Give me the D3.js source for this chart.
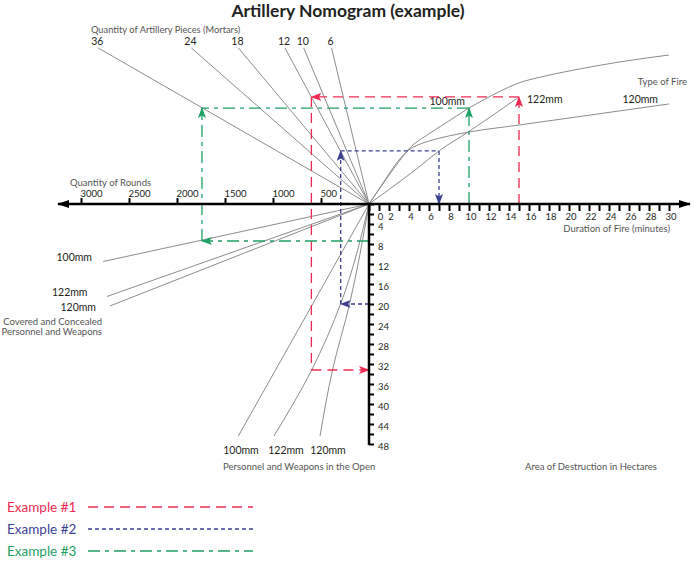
<!DOCTYPE html>
<html>
<head>
<meta charset="utf-8">
<script src="https://cdn.jsdelivr.net/npm/d3@7"></script>
<style>
  body { margin: 0; background: #fff; }
  svg { display: block; font-family: "Lato", "Open Sans", sans-serif; }
</style>
</head>
<body>
<svg id="chart" width="699" height="561"></svg>
<script>
// axis ticks
var roundsTicks = [500, 1000, 1500, 2000, 2500, 3000];
var minuteTicks = d3.range(0, 31);
var areaTicks = d3.range(0, 49, 2);

// upper left: quantity of pieces, rounds reached at the top of each line
var piecesLabels = ["36", "24", "18", "12", "10", "6"];
var piecesRoundsAtTop = [2820, 1850, 1360, 875, 680, 390];
var levelTop = 80;

// upper right: type of fire curves (minutes -> level)
var fire100Min = [0, 1, 2, 3, 4, 6, 8, 10, 12, 14, 15, 17, 20, 25, 30];
var fire100Level = [0, 7.5, 14.8, 21.8, 28.3, 36, 42.6, 49.2, 54.9, 60, 62.1, 64.9, 68.2, 72.8, 76.4];
var fire122Min = [0, 5, 7, 10, 15];
var fire122Level = [0, 19, 27.2, 37.2, 54.9];
var fire120Min = [0, 1, 2, 3, 4, 5, 6, 8, 10, 15, 20, 25, 30];
var fire120Level = [0, 7.7, 15.4, 22.6, 27.8, 30.5, 32.3, 34.9, 36.9, 40.5, 44.1, 47.7, 51.3];

// lower left: covered and concealed targets (rounds -> area)
var coveredLabels = ["100mm", "122mm", "120mm"];
var coveredRounds = [2770, 2730, 2700];
var coveredArea = [11.5, 18.5, 20.4];

// lower: personnel and weapons in the open
var openLabels = ["100mm", "122mm", "120mm"];
var open100Rounds = [0, 1361];
var open100Area = [0, 46.4];
var open122Rounds = [0, 292, 597, 990];
var open122Area = [0, 19.8, 33.2, 46.4];
var open120Rounds = [0, 200, 380, 510];
var open120Area = [0, 19.8, 33.2, 46.4];

// worked examples
var exampleNames = ["Example #1", "Example #2", "Example #3"];
var exampleColors = ["#ee2a52", "#3a3f92", "#1fa064"];
var exampleDash = ["10,6", "4,3", "12,5,4,5"];
var ex1 = { minutes: 15, level: 54.9, rounds: 600, area: 33.2 };
var ex2 = { minutes: 7, level: 27.2, rounds: 295, area: 20 };
var ex3 = { minutes: 10, level: 49.2, rounds: 1740, area: 7.4 };

var svg = d3.select("#chart");
var ox = 369, oy = 204;

// scales, all meeting at the origin
var xR = d3.scaleLinear().domain([0, 3000]).range([ox, 81]);
var xT = d3.scaleLinear().domain([0, 30]).range([ox, 669]);
var yA = d3.scaleLinear().domain([0, 48]).range([oy, 444]);
var yL = d3.scaleLinear().domain([0, levelTop]).range([oy, 48]);

var X = function(p) { return p.t !== undefined ? xT(p.t) : xR(p.r); };
var Y = function(p) { return p.l !== undefined ? yL(p.l) : yA(p.a); };

var grey = "#8c8c8c";
var ink = "#231f20";
var note = "#555";

// markers
var defs = svg.append("defs");
defs.append("marker").attr("id", "axArrow")
  .attr("markerUnits", "userSpaceOnUse")
  .attr("viewBox", "0 0 12 8").attr("refX", 11).attr("refY", 4)
  .attr("markerWidth", 12).attr("markerHeight", 8).attr("orient", "auto")
  .append("path").attr("d", "M0,0L12,4L0,8Z").attr("fill", "#000");
exampleColors.forEach(function(c, i) {
  defs.append("marker").attr("id", "ex" + i)
    .attr("markerUnits", "userSpaceOnUse")
    .attr("viewBox", "0 0 11 8").attr("refX", 10).attr("refY", 4)
    .attr("markerWidth", 11).attr("markerHeight", 8).attr("orient", "auto")
    .append("path").attr("d", "M0,0L11,4L0,8L2.5,4Z").attr("fill", c);
});

// title
svg.append("text").attr("x", 348).attr("y", 17).attr("text-anchor", "middle")
  .attr("font-size", 17.5).attr("font-weight", "bold").attr("fill", ink)
  .text("Artillery Nomogram (example)");

// ---- grey nomogram lines ----
var g = svg.append("g").attr("fill", "none").attr("stroke", grey).attr("stroke-width", 1);

// pieces lines
piecesRoundsAtTop.forEach(function(r, i) {
  g.append("line").attr("x1", ox).attr("y1", oy)
    .attr("x2", xR(r)).attr("y2", yL(levelTop));
  svg.append("text").attr("x", xR(r) - 1).attr("y", yL(levelTop) - 3)
    .attr("text-anchor", "middle").attr("font-size", 10.5).attr("fill", ink)
    .text(piecesLabels[i]);
});
svg.append("text").attr("x", 91).attr("y", 33).attr("font-size", 9.3).attr("fill", note)
  .text("Quantity of Artillery Pieces (Mortars)");

// fire curves
var fireLine = d3.line().x(function(d) { return xT(d[0]); }).y(function(d) { return yL(d[1]); })
  .curve(d3.curveMonotoneX);
[[fire100Min, fire100Level], [fire122Min, fire122Level], [fire120Min, fire120Level]].forEach(function(c) {
  g.append("path").attr("d", fireLine(d3.zip(c[0], c[1])));
});
var fl = svg.append("g").attr("font-size", 10.5).attr("fill", ink);
fl.append("text").attr("x", xT(9.6)).attr("y", yL(50.8)).attr("text-anchor", "end").text("100mm");
fl.append("text").attr("x", xT(15.8)).attr("y", yL(51.7)).text("122mm");
fl.append("text").attr("x", xT(28.9)).attr("y", yL(51.7)).attr("text-anchor", "end").text("120mm");
svg.append("text").attr("x", 687).attr("y", 85).attr("text-anchor", "end")
  .attr("font-size", 9.5).attr("fill", note).text("Type of Fire");

// covered lines
coveredRounds.forEach(function(r, i) {
  g.append("line").attr("x1", ox).attr("y1", oy)
    .attr("x2", xR(r)).attr("y2", yA(coveredArea[i]));
});
var cl = svg.append("g").attr("font-size", 10.5).attr("fill", ink).attr("text-anchor", "end");
cl.append("text").attr("x", 92).attr("y", 260.5).text(coveredLabels[0]);
cl.append("text").attr("x", 87.5).attr("y", 296).text(coveredLabels[1]);
cl.append("text").attr("x", 96).attr("y", 310.5).text(coveredLabels[2]);
var cv = svg.append("g").attr("font-size", 9.5).attr("fill", note).attr("text-anchor", "end");
cv.append("text").attr("x", 102).attr("y", 324.5).text("Covered and Concealed");
cv.append("text").attr("x", 102).attr("y", 334.5).text("Personnel and Weapons");

// open lines
var openLine = d3.line().x(function(d) { return xR(d[0]); }).y(function(d) { return yA(d[1]); })
  .curve(d3.curveMonotoneY);
var openSets = [[open100Rounds, open100Area], [open122Rounds, open122Area], [open120Rounds, open120Area]];
var openLabelX = [241, 286, 328];
openSets.forEach(function(c, i) {
  g.append("path").attr("d", openLine(d3.zip(c[0], c[1])));
  svg.append("text").attr("x", openLabelX[i]).attr("y", 454).attr("text-anchor", "middle")
    .attr("font-size", 10.5).attr("fill", ink).text(openLabels[i]);
});
svg.append("text").attr("x", 223).attr("y", 470).attr("font-size", 9.5).attr("fill", note)
  .text("Personnel and Weapons in the Open");
svg.append("text").attr("x", 525).attr("y", 470).attr("font-size", 9.5).attr("fill", note)
  .text("Area of Destruction in Hectares");

// ---- example paths ----
function seg(i, a, b, arrow) {
  var p = svg.append("line")
    .attr("x1", X(a)).attr("y1", Y(a)).attr("x2", X(b)).attr("y2", Y(b))
    .attr("stroke", exampleColors[i]).attr("stroke-width", 1.3)
    .attr("stroke-dasharray", exampleDash[i]);
  if (arrow) p.attr("marker-end", "url(#ex" + i + ")");
}
// #1: duration -> 122mm -> 12 pieces -> rounds -> open 122mm -> area
seg(0, { t: ex1.minutes, l: 0 }, { t: ex1.minutes, l: ex1.level }, true);
seg(0, { t: ex1.minutes, l: ex1.level }, { r: ex1.rounds, l: ex1.level }, true);
seg(0, { r: ex1.rounds, l: ex1.level }, { r: ex1.rounds, a: ex1.area }, false);
seg(0, { r: ex1.rounds, a: ex1.area }, { t: 0, a: ex1.area }, true);
// #2: area -> open 122mm -> rounds -> 12 pieces -> 122mm -> duration
seg(1, { t: 0, a: ex2.area }, { r: ex2.rounds, a: ex2.area }, true);
seg(1, { r: ex2.rounds, a: ex2.area }, { r: ex2.rounds, l: ex2.level }, true);
seg(1, { r: ex2.rounds, l: ex2.level }, { t: ex2.minutes, l: ex2.level }, false);
seg(1, { t: ex2.minutes, l: ex2.level }, { t: ex2.minutes, l: 0 }, true);
// #3: area -> covered 100mm -> rounds, and duration -> 100mm, meeting on 36 pieces
seg(2, { t: 0, a: ex3.area }, { r: ex3.rounds, a: ex3.area }, true);
seg(2, { r: ex3.rounds, a: ex3.area }, { r: ex3.rounds, l: ex3.level }, true);
seg(2, { t: ex3.minutes, l: 0 }, { t: ex3.minutes, l: ex3.level }, true);
seg(2, { t: ex3.minutes, l: ex3.level }, { r: ex3.rounds, l: ex3.level }, false);

// ---- axes ----
var axes = svg.append("g");
axes.append("line").attr("x1", ox).attr("y1", oy).attr("x2", 58).attr("y2", oy)
  .attr("stroke", "#000").attr("stroke-width", 2.5).attr("marker-end", "url(#axArrow)");
axes.append("line").attr("x1", ox).attr("y1", oy).attr("x2", 690).attr("y2", oy)
  .attr("stroke", "#000").attr("stroke-width", 2.5).attr("marker-end", "url(#axArrow)");
axes.append("line").attr("x1", ox).attr("y1", oy - 1).attr("x2", ox).attr("y2", yA(48) + 1)
  .attr("stroke", "#000").attr("stroke-width", 2.5);

function styleAxis(sel) {
  sel.select(".domain").remove();
  sel.attr("font-family", null).attr("font-size", 9.5);
  sel.selectAll(".tick line").attr("stroke", "#000").attr("stroke-width", 2);
  sel.selectAll(".tick text").attr("fill", ink);
}

var aRounds = axes.append("g").attr("transform", "translate(0," + oy + ")")
  .call(d3.axisTop(xR).tickValues(roundsTicks).tickSize(6).tickPadding(1).tickFormat(d3.format("d")));
styleAxis(aRounds);
aRounds.selectAll(".tick text").attr("text-anchor", "start").attr("dx", -1);
axes.append("text").attr("x", 70).attr("y", 186).attr("font-size", 9.5).attr("fill", note)
  .text("Quantity of Rounds");

var aMin = axes.append("g").attr("transform", "translate(0," + oy + ")")
  .call(d3.axisBottom(xT).tickValues(minuteTicks).tickSize(7)
    .tickFormat(function(d) { return d % 2 === 0 ? d : ""; }));
styleAxis(aMin);
aMin.selectAll(".tick text").attr("y", 15.5).attr("dy", 0)
  .attr("dx", function(d) { return d === 0 ? 11 : 1.5; });
axes.append("text").attr("x", 670).attr("y", 232).attr("text-anchor", "end")
  .attr("font-size", 9.5).attr("fill", note).text("Duration of Fire (minutes)");

var aArea = axes.append("g").attr("transform", "translate(" + ox + ",0)")
  .call(d3.axisRight(yA).tickValues(areaTicks).tickSize(5).tickPadding(4)
    .tickFormat(function(d) { return d % 4 === 0 && d > 0 ? d : ""; }));
styleAxis(aArea);
aArea.selectAll(".tick text").attr("y", 2);

// ---- legend ----
var leg = svg.append("g");
exampleNames.forEach(function(n, i) {
  var y = 507 + i * 22;
  leg.append("text").attr("x", 7).attr("y", y + 4.5).attr("font-size", 13.5)
    .attr("fill", exampleColors[i]).text(n);
  leg.append("line").attr("x1", 88).attr("x2", 253).attr("y1", y).attr("y2", y)
    .attr("stroke", exampleColors[i]).attr("stroke-width", 1.5)
    .attr("stroke-dasharray", exampleDash[i]);
});
</script>
</body>
</html>
